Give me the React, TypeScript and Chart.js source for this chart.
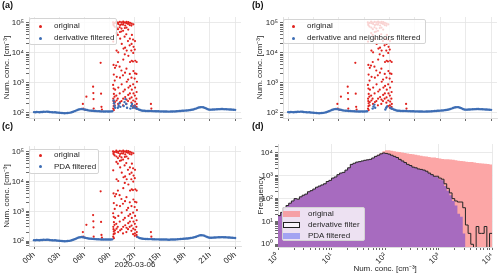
import React, { useEffect, useRef } from 'react';
import { Chart, registerables } from 'chart.js';

Chart.register(...registerables);

const FONT = '"Liberation Sans", Arial, sans-serif';
const TEXT = '#262626';
const GRID = '#e4e4e4';
const BORDER = '#d6d6d6';
const TICKC = '#444444';
const RED = '#e0211d';
const BLUE = '#3d6db4';
const PINK = '#fca6a6';
const PURPLE = '#a76bbf';

// ---------- time series data ----------
const hourTicks = [0, 3, 6, 9, 12, 15, 18, 21, 24];
const sampleStepHours = 1 / 6; // 10-min samples
// background (filtered) concentration, cm^-3, every 10 min; null = removed by PDA filter
const baseValues: (number | null)[] = [
  107, 106, 108, 107, 106, 108,
  108, 110, 109, 111, 110, 108,
  107, 106, 105, 106, 104, 103,
  102, 101, 100, 99, 98, 99,
  100, 101, 103, 106, 110, 115,
  120, 126, 131, 134, 136, 134,
  131, 128, 125, 122, 120, 119,
  118, 117, 116, 115, 115, 114,
  113, 113, 112, 112, 113, 112,
  112, 113, 114,
  null, null, null, null, null, null, null, null, null, null, null, null, null, null, null, null, null,
  138, 130, 125, 121,
  119, 118, 117, 117, 116, 116,
  116, 115, 115, 114, 114, 114,
  113, 113, 113, 112, 112, 112,
  111, 111, 112, 112, 113, 113,
  114, 115, 116, 117, 118, 119,
  120, 121, 122, 124, 126, 128,
  131, 135, 140, 146, 152, 156,
  157, 155, 150, 143, 136, 131,
  129, 129, 130, 131, 132, 133,
  134, 134, 135, 135, 134, 134,
  133, 132, 131, 130, 129, 128,
  127,
];
// points kept by the derivative filter inside the spike period
const derivGapTimes = [9.5, 9.55, 9.6, 9.67, 10.0, 10.1, 10.2, 10.3, 10.7, 10.8, 10.9, 11.0, 11.1, 11.5, 11.6, 11.7, 11.8, 12.0, 12.1, 12.2];
const derivGapValues = [260, 210, 170, 150, 150, 175, 210, 160, 170, 230, 290, 200, 150, 140, 170, 200, 150, 170, 150, 140];
// points kept by the derivative + neighbours filter
const neighGapTimes = [10.0, 10.1, 10.2, 10.3, 11.5, 11.6, 11.7, 12.1, 12.2];
const neighGapValues = [140, 165, 190, 150, 130, 150, 165, 150, 140];

// original (unfiltered) outliers: [hour, concentration]
const originalPoints: [number, number][] = [
  [5.83, 200], [5.87, 140], [6.25, 350], [6.1, 128],
  [7.05, 750], [7.08, 460], [7.1, 290], [7.12, 140],
  [7.95, 4700], [8.0, 440], [8.05, 160], [8.1, 130],
  [9.43, 105000], [9.47, 92000], [9.5, 84000], [9.45, 24000], [9.49, 4000], [9.52, 1900], [9.44, 860], [9.5, 650], [9.53, 430], [9.46, 300], [9.48, 250], [9.52, 210], [9.5, 170], [9.45, 140], [9.53, 125],
  [9.65, 100000], [9.62, 76000], [9.66, 3200], [9.63, 1200], [9.68, 600], [9.61, 350], [9.66, 230], [9.64, 180],
  [9.82, 110000], [9.86, 98000], [9.84, 70000], [9.83, 46000], [9.85, 12000], [9.8, 3800], [9.87, 1600], [9.82, 380], [9.85, 260],
  [10.03, 102000], [10.06, 92000], [10.02, 62000], [10.0, 40000], [10.05, 10500], [10.01, 5000], [10.06, 700], [9.99, 300], [10.04, 200],
  [10.24, 108000], [10.27, 85000], [10.22, 72000], [10.25, 50000], [10.28, 30000], [10.21, 3500], [10.26, 1500], [10.23, 450], [10.27, 230],
  [10.45, 105000], [10.42, 90000], [10.44, 65000], [10.41, 52000], [10.47, 20000], [10.43, 2600], [10.46, 900], [10.44, 250],
  [10.64, 110000], [10.67, 100000], [10.62, 88000], [10.63, 55000], [10.68, 14000], [10.65, 6000], [10.61, 1800], [10.66, 520], [10.64, 300], [10.62, 180],
  [10.85, 104000], [10.88, 82000], [10.84, 68000], [10.81, 35000], [10.87, 15000], [10.83, 9000], [10.86, 2200], [10.84, 600], [10.88, 340],
  [11.05, 108000], [11.02, 98000], [11.04, 70000], [11.01, 42000], [11.06, 12000], [11.03, 3000], [11.07, 1100], [11.04, 280], [11.02, 200],
  [11.25, 106000], [11.22, 93000], [11.24, 60000], [11.21, 25000], [11.26, 8000], [11.23, 1300], [11.27, 700], [11.24, 400], [11.22, 250],
  [11.45, 100000], [11.42, 85000], [11.44, 30000], [11.41, 18000], [11.46, 5000], [11.43, 2000], [11.47, 800], [11.44, 450], [11.42, 300],
  [11.65, 95000], [11.62, 82000], [11.68, 40000], [11.64, 20000], [11.61, 12000], [11.66, 5500], [11.63, 1500], [11.67, 600], [11.64, 330], [11.62, 220],
  [11.85, 90000], [11.82, 28000], [11.88, 16000], [11.84, 10000], [11.81, 5200], [11.86, 2500], [11.83, 900], [11.87, 450], [11.84, 260], [11.82, 170],
  [12.05, 25000], [12.02, 13000], [12.08, 5500], [12.04, 2100], [12.01, 1400], [12.06, 700], [12.03, 380], [12.07, 240], [12.04, 180], [12.02, 150],
  [12.25, 5000], [12.22, 2000], [12.28, 1100], [12.24, 500], [12.21, 300], [12.26, 200], [12.23, 160], [12.27, 140],
  [13.95, 200], [14.0, 140],
];

// ---------- histogram data (20 log bins per decade, 10^0 .. 10^4) ----------
const binsPerDecade = 20;
const histOriginal = [
  18, 25, 40, 50, 63, 79, 100, 95, 120, 141,
  158, 200, 224, 263, 316, 355, 398, 447, 562, 631,
  794, 891, 1122, 1318, 1413, 1778, 2239, 3162, 3548, 3981,
  4169, 4467, 4786, 5012, 5248, 6026, 7413, 8318, 10000, 12023,
  13183, 13183, 12589, 12023, 11220, 10965, 10471, 10000, 9550, 9120,
  8710, 8318, 7943, 7586, 7244, 6918, 6607, 6310, 6310, 6026,
  5754, 5495, 5370, 5248, 5129, 5012, 4786, 4571, 4467, 4365,
  4169, 3981, 3981, 3802, 3631, 3548, 3467, 3388, 3311, 3162,
];
const histDerivative = [
  18, 25, 40, 50, 63, 79, 100, 95, 120, 141,
  158, 200, 224, 263, 316, 355, 398, 447, 562, 631,
  794, 891, 1122, 1318, 1413, 1778, 2239, 3162, 3548, 3981,
  4169, 4467, 4786, 5012, 5248, 6026, 7079, 7943, 9120, 10000,
  9550, 8913, 7943, 7079, 6310, 5248, 4467, 3802, 3162, 2818,
  2399, 2239, 1995, 1905, 1778, 1585, 1318, 1122, 955, 955,
  794, 708, 447, 282, 178, 100, 79, 71, 71, 40,
  7, 3, 1, 0, 6, 3, 3, 6, 0, 3,
];
const histPDA = [
  18, 25, 40, 50, 63, 79, 100, 95, 120, 141,
  158, 200, 224, 263, 316, 355, 398, 447, 562, 631,
  794, 891, 1122, 1318, 1413, 1778, 2239, 3162, 3548, 3981,
  4169, 4467, 4786, 5012, 5248, 6026, 7079, 7943, 9120, 10000,
  9550, 8913, 7943, 7079, 6310, 5248, 4467, 3802, 3162, 2818,
  2399, 2239, 1995, 1905, 1778, 1585, 1318, 1122, 955, 891,
  708, 631, 355, 224, 141, 79, 50, 22, 16, 3,
];

// ---------- helpers ----------
const SUP: Record<string, string> = { '0': '⁰', '1': '¹', '2': '²', '3': '³', '4': '⁴', '5': '⁵', '6': '⁶', '-': '⁻' };
const isPow10 = (v: number) => Math.abs(Math.log10(v) - Math.round(Math.log10(v))) < 1e-9;
const pow10Label = (v: number) => '10' + String(Math.round(Math.log10(v))).split('').map((c) => SUP[c]).join('');
const logTickValues = (min: number, max: number) => {
  const out: number[] = [];
  for (let e = -1; e <= 6; e++) for (let m = 1; m <= 9; m++) {
    const v = m * Math.pow(10, e);
    if (v >= min * 0.9999 && v <= max * 1.0001) out.push(v);
  }
  return out;
};
const font = (size = 8) => ({ family: FONT, size });

function logAxis(min: number, max: number, width: number, title: string, titlePad: number, labelsRotated = false, isX = false, height = 0, xTitle = '', xTitlePad = 0) {
  const ax: any = {
    type: 'logarithmic',
    min,
    max,
    afterBuildTicks: (s: any) => { s.ticks = logTickValues(min, max).map((v) => ({ value: v })); },
    afterFit: (s: any) => { if (isX) s.height = height; else s.width = width; },
    ticks: {
      autoSkip: false,
      color: TEXT,
      font: font(8),
      padding: 2,
      callback: (v: number) => (isPow10(v) ? pow10Label(v) : ''),
    },
    grid: {
      color: (c: any) => (c.tick && isPow10(c.tick.value) ? GRID : 'rgba(0,0,0,0)'),
      tickColor: TICKC,
      tickLength: 3,
      lineWidth: 0.8,
    },
    border: { color: BORDER, width: 0.8 },
    title: isX
      ? { display: !!xTitle, text: xTitle, color: TEXT, font: font(8), padding: { top: 0, bottom: xTitlePad } }
      : { display: !!title, text: title, color: TEXT, font: font(8), padding: { top: titlePad, bottom: 0 } },
  };
  if (labelsRotated) { ax.ticks.minRotation = 45; ax.ticks.maxRotation = 45; ax.ticks.padding = 1; }
  return ax;
}

const X_MIN = -0.6;
const X_MAX = 24.7;

function timeAxis(showLabels: boolean, height: number, title = '', titlePad = 0) {
  return {
    type: 'linear',
    min: X_MIN,
    max: X_MAX,
    afterBuildTicks: (s: any) => { s.ticks = hourTicks.map((v) => ({ value: v })); },
    afterFit: (s: any) => { s.height = height; },
    ticks: {
      display: showLabels,
      autoSkip: false,
      minRotation: 40,
      maxRotation: 40,
      padding: 1,
      color: TEXT,
      font: font(8),
      callback: (v: number) => String(Math.round(v) % 24).padStart(2, '0') + 'h',
    },
    grid: { color: GRID, tickColor: TICKC, tickLength: 3, lineWidth: 0.8 },
    border: { color: BORDER, width: 0.8 },
    title: { display: !!title, text: title, color: TEXT, font: font(8), padding: { top: 0, bottom: titlePad } },
  };
}

const basePoints = baseValues
  .map((v, i) => (v === null ? null : { x: i * sampleStepHours, y: v }))
  .filter((p) => p !== null) as { x: number; y: number }[];
const redPoints = originalPoints.map(([x, y]) => ({ x, y }));
const derivPoints = basePoints.concat(derivGapTimes.map((x, i) => ({ x, y: derivGapValues[i] })));
const neighPoints = basePoints.concat(neighGapTimes.map((x, i) => ({ x, y: neighGapValues[i] })));

type TSOpts = { blue: { x: number; y: number }[]; blueLabel: string; padTop: number; padRight: number; yWidth: number; yTitlePad: number; xLabels: boolean; xHeight: number; xTitle?: string; xTitlePad?: number };

const timeSeriesConfig = (o: TSOpts): any => ({
  type: 'scatter',
  data: {
    datasets: [
      { label: 'original', data: redPoints, pointRadius: 1.1, pointHoverRadius: 0, pointBorderWidth: 0, pointBackgroundColor: RED, order: 2 },
      { label: o.blueLabel, data: o.blue, pointRadius: 1.2, pointHoverRadius: 0, pointBorderWidth: 0, pointBackgroundColor: BLUE, order: 1 },
    ],
  },
  options: {
    responsive: false,
    animation: false,
    devicePixelRatio: 1,
    events: [],
    layout: { padding: { left: 0, top: o.padTop, right: o.padRight, bottom: 0 } },
    plugins: { legend: { display: false }, tooltip: { enabled: false } },
    scales: {
      x: timeAxis(o.xLabels, o.xHeight, o.xTitle || '', o.xTitlePad || 0),
      y: logAxis(68, 158000, o.yWidth, 'Num. conc. [cm⁻³]', o.yTitlePad),
    },
  },
});

const edge = (k: number) => Math.pow(10, k / binsPerDecade);
const stepPoints = (counts: number[]) => {
  const pts = counts.map((c, k) => ({ x: edge(k), y: c > 0 ? c : 0.1 }));
  const last = counts[counts.length - 1];
  pts.push({ x: edge(counts.length), y: last > 0 ? last : 0.1 });
  return pts;
};

const histConfig = (): any => ({
  type: 'line',
  data: {
    datasets: [
      { label: 'original', data: stepPoints(histOriginal), stepped: 'before', fill: 'start', backgroundColor: PINK, borderColor: 'rgba(0,0,0,0)', borderWidth: 0, pointRadius: 0, order: 3 },
      { label: 'PDA filtered', data: stepPoints(histPDA), stepped: 'before', fill: 'start', backgroundColor: PURPLE, borderColor: 'rgba(0,0,0,0)', borderWidth: 0, pointRadius: 0, order: 2 },
      { label: 'derivative filter', data: stepPoints(histDerivative), stepped: 'before', fill: false, borderColor: '#262626', borderWidth: 1, pointRadius: 0, order: 1 },
    ],
  },
  options: {
    responsive: false,
    animation: false,
    devicePixelRatio: 1,
    events: [],
    layout: { padding: { left: 0, top: 7, right: 2, bottom: 0 } },
    plugins: { legend: { display: false }, tooltip: { enabled: false } },
    scales: {
      x: logAxis(1, 10000, 0, '', 0, true, true, 27, 'Num. conc. [cm⁻³]', 0),
      y: logAxis(0.76, 24700, 28, 'Frequency', 6),
    },
  },
});

function ChartCanvas({ left, top, width, height, make }: { left: number; top: number; width: number; height: number; make: () => any }) {
  const ref = useRef<HTMLCanvasElement>(null);
  useEffect(() => {
    const chart = new Chart(ref.current as HTMLCanvasElement, make());
    return () => chart.destroy();
  }, []);
  return <canvas ref={ref} width={width} height={height} style={{ position: 'absolute', left, top, width, height }} />;
}

type LItem = { label: string; kind: 'dot' | 'patch'; color: string; border?: string; y: number };
function Legend({ box, markerX, textX, items }: { box: [number, number, number, number]; markerX: number; textX: number; items: LItem[] }) {
  return (
    <>
      <div style={{ position: 'absolute', left: box[0], top: box[1], width: box[2], height: box[3], background: 'rgba(255,255,255,0.8)', border: '1px solid #d4d4d4', borderRadius: 2, boxSizing: 'border-box' }} />
      {items.map((it, i) =>
        it.kind === 'dot' ? (
          <div key={'m' + i} style={{ position: 'absolute', left: markerX - 1.5, top: it.y - 1.5, width: 3, height: 3, borderRadius: '50%', background: it.color }} />
        ) : (
          <div key={'m' + i} style={{ position: 'absolute', left: markerX, top: it.y - 3, width: 17, height: 6, background: it.color, border: it.border ? '1px solid ' + it.border : 'none', boxSizing: 'border-box' }} />
        )
      )}
      {items.map((it, i) => (
        <div key={'t' + i} style={{ position: 'absolute', left: textX, top: it.y - 5, height: 10, lineHeight: '10px', fontSize: 8, color: TEXT, whiteSpace: 'nowrap' }}>{it.label}</div>
      ))}
    </>
  );
}

const letterStyle = (left: number, top: number): React.CSSProperties => ({ position: 'absolute', left, top, fontSize: 9, fontWeight: 'bold', color: '#111', lineHeight: '10px' });

export default function App() {
  return (
    <div style={{ position: 'absolute', left: 0, top: 0, width: 500, height: 274, background: '#fff', fontFamily: FONT, overflow: 'hidden' }}>
      <ChartCanvas left={0} top={0} width={250} height={137} make={() => timeSeriesConfig({ blue: derivPoints, blueLabel: 'derivative filtered', padTop: 17, padRight: 9, yWidth: 29, yTitlePad: 2, xLabels: false, xHeight: 19 })} />
      <ChartCanvas left={250} top={0} width={250} height={137} make={() => timeSeriesConfig({ blue: neighPoints, blueLabel: 'derivative and neighbors filtered', padTop: 17, padRight: 3, yWidth: 33, yTitlePad: 5, xLabels: false, xHeight: 19 })} />
      <ChartCanvas left={0} top={137} width={250} height={137} make={() => timeSeriesConfig({ blue: basePoints, blueLabel: 'PDA filtered', padTop: 9, padRight: 9, yWidth: 29, yTitlePad: 2, xLabels: true, xHeight: 28, xTitle: '2020-03-06', xTitlePad: 4 })} />
      <ChartCanvas left={250} top={137} width={250} height={137} make={histConfig} />

      <Legend box={[29, 18, 88, 27]} markerX={40} textX={54} items={[
        { label: 'original', kind: 'dot', color: RED, y: 26 },
        { label: 'derivative filtered', kind: 'dot', color: BLUE, y: 38 },
      ]} />
      <Legend box={[283, 19, 143, 25]} markerX={293} textX={307} items={[
        { label: 'original', kind: 'dot', color: RED, y: 26 },
        { label: 'derivative and neighbors filtered', kind: 'dot', color: BLUE, y: 38 },
      ]} />
      <Legend box={[29, 149, 70, 25]} markerX={40} textX={54} items={[
        { label: 'original', kind: 'dot', color: RED, y: 155 },
        { label: 'PDA filtered', kind: 'dot', color: BLUE, y: 166.5 },
      ]} />
      <Legend box={[282, 207, 83, 34]} markerX={283} textX={308} items={[
        { label: 'original', kind: 'patch', color: '#f5a0a6', y: 214 },
        { label: 'derivative filter', kind: 'patch', color: 'rgba(255,255,255,0.6)', border: '#222', y: 225 },
        { label: 'PDA filtered', kind: 'patch', color: '#a3a3f2', y: 236 },
      ]} />

      <div style={letterStyle(2, 0)}>(a)</div>
      <div style={letterStyle(252, 0)}>(b)</div>
      <div style={letterStyle(2, 121)}>(c)</div>
      <div style={letterStyle(252, 121)}>(d)</div>
    </div>
  );
}
